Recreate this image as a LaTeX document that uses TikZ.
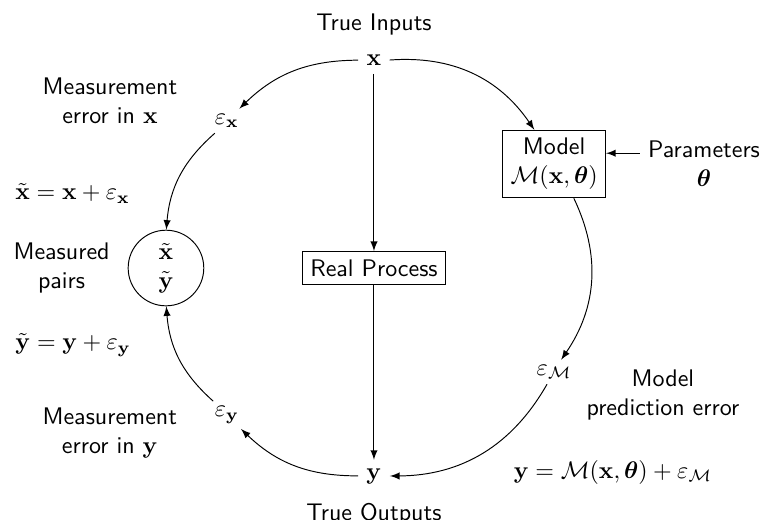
\documentclass[tikz,border=0pt]{standalone}
\usepackage{amsmath}
\usepackage{tikz}
\usetikzlibrary{positioning}

\begin{document}
\begin{tikzpicture}[
			>=latex,
			node distance=10pt,
			every node/.style = {font=\sffamily},
			err/.style = {inner sep=2pt},
			proc/.style = {draw, align=center},
			note/.style = {align=center}
		]
		\useasboundingbox (-5.475,-3.675) rectangle (5.71,3.924);
		% Quantities on the ring.
		\node (x) at (90:3.045) {$\mathbf{x}$};
		\node[err] (ex) at (135:3.045) {$\varepsilon_{\mathbf{x}}$};
		\node[draw, circle, minimum size=31.5pt, align=center] (xy) at (180:3.045) {$\tilde{\mathbf{x}}$\\$\tilde{\mathbf{y}}$};
		\node[err] (ey) at (225:3.045) {$\varepsilon_{\mathbf{y}}$};
		\node (y) at (270:3.045) {$\mathbf{y}$};
		\node[err] (em) at (-30:3.045) {$\varepsilon_{\mathcal{M}}$};
		\node[proc] (m) at (30:3.045) {Model\\$\mathcal{M}(\mathbf{x},\boldsymbol{\theta})$};
		\node[proc] (rp) at (0,0) {Real Process};
		% Labels.
		\node[above=1pt of x] (ti) {True Inputs};
		\node[below=1pt of y] (to) {True Outputs};
		\node[note, left=10pt of ex, yshift=8.5pt] (mex) {Measurement\\error in $\mathbf{x}$};
		\node[note, left=10pt of ey, yshift=-7.5pt] (mey) {Measurement\\error in $\mathbf{y}$};
		\node[note, left=4pt of xy] (mp) {Measured\\pairs};
		\node[note, right=14pt of m] (par) {Parameters\\$\boldsymbol{\theta}$};
		\node[note, right=0.5pt of em, yshift=-9.5pt] (pe) {Model\\prediction error};
		\node (ym) at (3.499,-2.987) {$\mathbf{y}=\mathcal{M}(\mathbf{x},\boldsymbol{\theta})+\varepsilon_{\mathcal{M}}$};
		\node[anchor=west] (xt) at (-5.373,1.098) {$\tilde{\mathbf{x}}=\mathbf{x}+\varepsilon_{\mathbf{x}}$};
		\node[anchor=west] (yt) at (-5.373,-1.127) {$\tilde{\mathbf{y}}=\mathbf{y}+\varepsilon_{\mathbf{y}}$};

		\draw[->] (x) to (rp);
		\draw[->] (rp) to (y);
		\draw[->] (x) to[bend right=22] (ex);
		\draw[->] (ex) to[bend right=22] (xy);
		\draw[->] (y) to[bend left=22] (ey);
		\draw[->] (ey) to[bend left=22] (xy);
		\draw[->] (x) to[bend left=30] (m);
		\draw[->] (m) to[bend left=30] (em);
		\draw[->] (em) to[bend left=30] (y);
		\draw[->] ([yshift=4.5pt]par.west) to ([yshift=4.5pt]par.west -| m.east);
	\end{tikzpicture}
\end{document}
